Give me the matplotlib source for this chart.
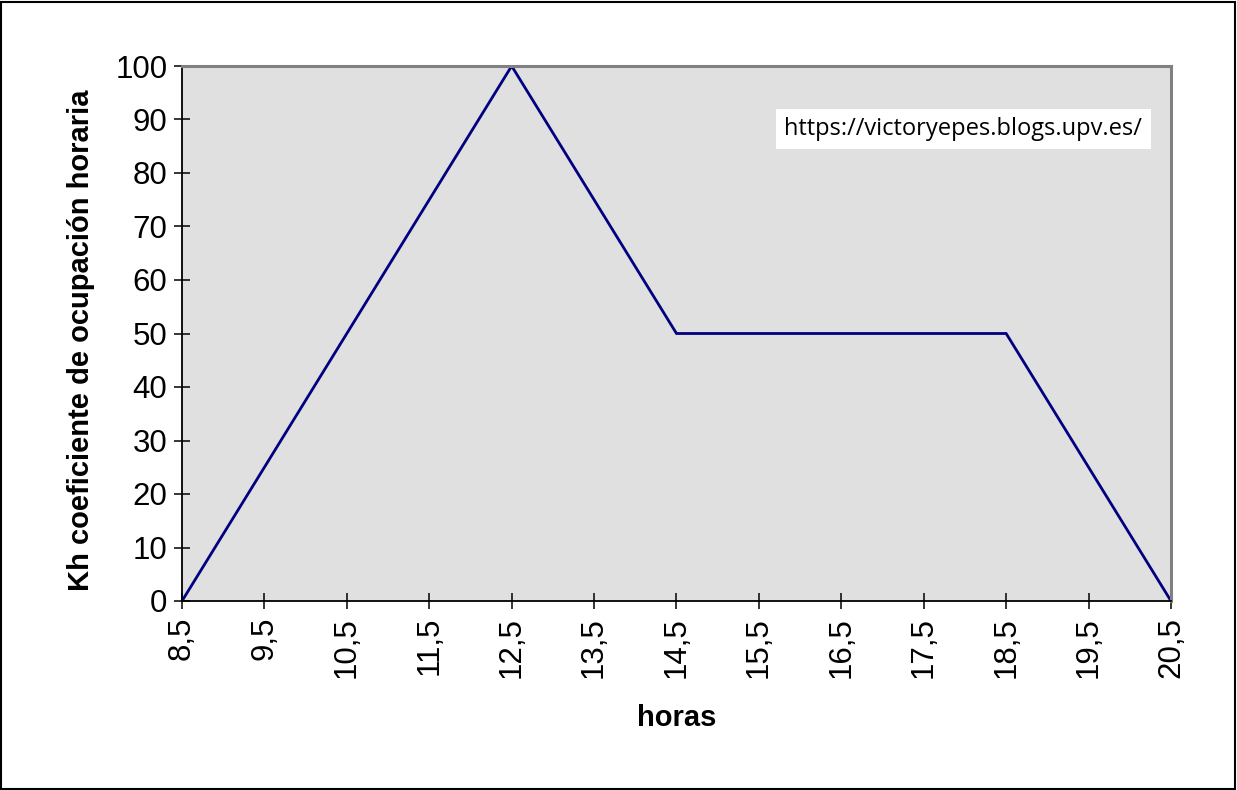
import matplotlib
matplotlib.use("Agg")
import matplotlib.pyplot as plt
from matplotlib.patches import Rectangle

horas = [8.5, 9.5, 10.5, 11.5, 12.5, 13.5, 14.5, 15.5, 16.5, 17.5, 18.5, 19.5, 20.5]
kh = [0, 25, 50, 75, 100, 75, 50, 50, 50, 50, 50, 25, 0]
etiquetas = [("%.1f" % h).replace(".", ",") for h in horas]
yticks = list(range(0, 101, 10))

plt.rcParams['font.family'] = ['Liberation Sans', 'DejaVu Sans']

fig = plt.figure(figsize=(12.37, 7.90), dpi=100)
ax = fig.add_axes([182/1237, 1 - 601/790, (1171 - 182)/1237, (601 - 66)/790])
ax.set_facecolor('#e0e0e0')

ax.plot(horas, kh, color='#000080', lw=2.0, solid_joinstyle='miter')

ax.set_xlim(horas[0], horas[-1])
ax.set_ylim(0, 100)
ax.set_xticks(horas)
ax.set_xticklabels(etiquetas, rotation=90, fontsize=22.5)
ax.set_yticks(yticks)
ax.set_yticklabels([str(v) for v in yticks], fontsize=22.5)
ax.tick_params(axis='both', direction='inout', length=11, width=1.1, color='black')
ax.tick_params(axis='x', pad=6)
ax.tick_params(axis='y', pad=5)

for s in ['top', 'right']:
    ax.spines[s].set_color('#808080')
    ax.spines[s].set_linewidth(2.2)
for s in ['left', 'bottom']:
    ax.spines[s].set_color('black')
    ax.spines[s].set_linewidth(1.3)

ax.set_xlabel('horas', fontsize=21, fontweight='bold', labelpad=19)
ax.set_ylabel('Kh coeficiente de ocupación horaria', fontsize=21, fontweight='bold')
ax.yaxis.set_label_coords(-0.088, 0.488)

ax.text(0.79, 0.882, 'https://victoryepes.blogs.upv.es/', transform=ax.transAxes,
        fontsize=17, ha='center', va='center', family=['Open Sans', 'DejaVu Sans'],
        bbox=dict(facecolor='white', edgecolor='none', boxstyle='square,pad=0.35'))

fig.patches.append(Rectangle((0.001, 0.001), 0.997, 0.997, transform=fig.transFigure,
                             fill=False, edgecolor='black', lw=1.5))

fig.savefig('out.png', dpi=100)
